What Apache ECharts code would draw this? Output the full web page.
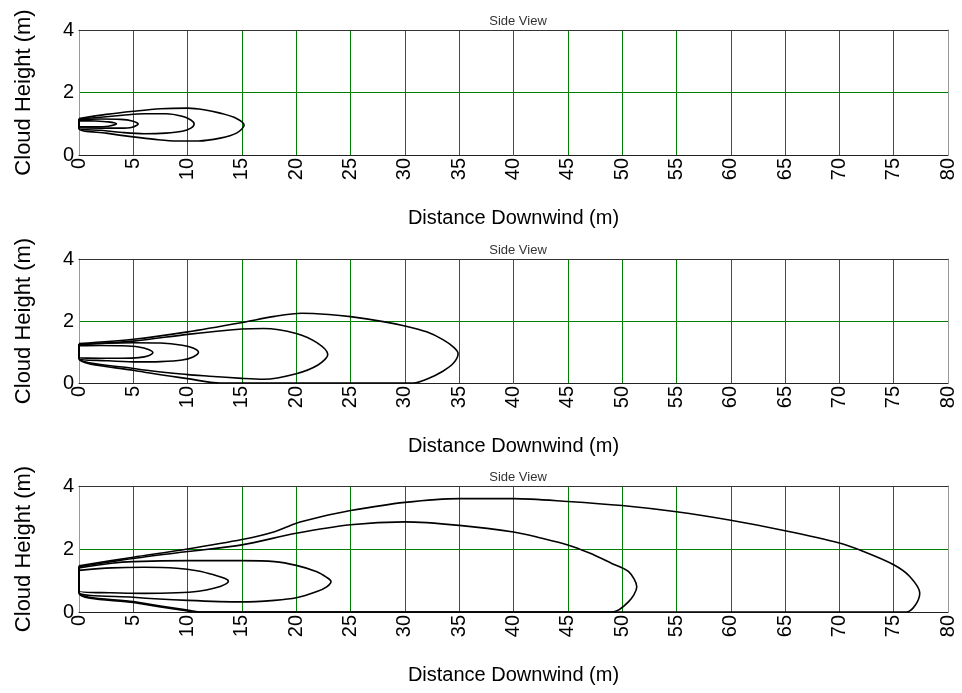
<!DOCTYPE html>
<html lang="en">

<head>
	<meta charset="UTF-8" />
	<title>Side View</title>
	<script src="https://cdn.jsdelivr.net/npm/echarts@6.0.0/dist/echarts.min.js"></script>
	<style type="text/css">
		body {
			margin: 0;
			background-color: #ffffff;
		}

		#chart {
			width: 962px;
			height: 693px;
		}
	</style>
</head>

<body>
	<div id="chart"></div>

	<script>
		//--------------------------- 資料 ---------------------------//

		const xTicks = [0, 5, 10, 15, 20, 25, 30, 35, 40, 45, 50, 55, 60, 65, 70, 75, 80];
		const yTicks = [0, 2, 4];

		// panel 1 contours (x m, height m)
		const p1Contour1 = [[0, 1.1], [1.5, 1.09], [2.7, 1.06], [3.45, 1.0], [2.7, 0.92], [1.5, 0.9], [0, 0.9], [0, 1.1]];
		const p1Contour2 = [[0, 1.13], [2, 1.15], [3.8, 1.14], [4.9, 1.09], [5.45, 0.99], [4.9, 0.89], [3.8, 0.86], [2, 0.86], [0, 0.87], [0, 1.13]];
		const p1Contour3 = [[0, 1.15], [2, 1.21], [4, 1.27], [6, 1.32], [8, 1.32], [9.5, 1.24], [10.3, 1.12], [10.6, 0.99], [10.3, 0.86], [9.5, 0.76], [8, 0.7], [6, 0.68], [4, 0.72], [2, 0.79], [0, 0.86], [0, 1.15]];
		const p1Contour4 = [[0, 1.17], [2.5, 1.3], [5, 1.4], [7.5, 1.48], [10, 1.5], [11.5, 1.45], [13, 1.34], [14.5, 1.17], [15.2, 0.95], [14.5, 0.7], [13, 0.54], [11, 0.45], [9, 0.45], [7, 0.5], [5, 0.58], [2.5, 0.7], [0, 0.84], [0, 1.17]];

		// panel 2 contours
		const p2Contour1 = [[0, 1.2], [2, 1.21], [4, 1.2], [5.5, 1.16], [6.4, 1.08], [6.8, 0.98], [6.4, 0.88], [5.5, 0.82], [4, 0.8], [2, 0.8], [0, 0.81], [0, 1.2]];
		const p2Contour2 = [[0, 1.23], [2.5, 1.28], [5, 1.3], [7.5, 1.29], [9.5, 1.22], [10.5, 1.13], [11, 0.99], [10.5, 0.84], [9.5, 0.74], [7.5, 0.69], [5, 0.68], [2.5, 0.72], [0, 0.79], [0, 1.23]];
		const p2Contour3 = [[0, 1.25], [5, 1.35], [10, 1.57], [15, 1.74], [17, 1.76], [20, 1.6], [21.9, 1.3], [22.9, 0.92], [22, 0.58], [20, 0.3], [17, 0.12], [15, 0.15], [12, 0.22], [10, 0.27], [5, 0.47], [0, 0.8], [0, 1.25]];
		const p2Contour4 = [[0, 1.27], [5, 1.41], [10, 1.65], [15, 1.95], [18, 2.15], [20.5, 2.25], [23, 2.21], [25, 2.14], [28, 1.98], [30, 1.84], [32, 1.65], [33.5, 1.4], [34.5, 1.15], [34.9, 0.95], [34.5, 0.65], [33.5, 0.38], [32, 0.12], [30.8, 0], [13, 0], [10, 0.14], [5, 0.41], [0, 0.78], [0, 1.27]];

		// panel 3 contours
		const p3Contour1 = [[0, 1.32], [3, 1.4], [6, 1.42], [9, 1.39], [11, 1.3], [12.5, 1.17], [13.4, 1.07], [13.75, 0.98], [13.4, 0.87], [12.5, 0.76], [11, 0.66], [9, 0.61], [6, 0.59], [3, 0.61], [0, 0.67], [0, 1.32]];
		const p3Contour2 = [[0, 1.4], [3, 1.55], [5, 1.6], [10, 1.63], [15, 1.63], [18, 1.6], [20, 1.48], [21.9, 1.28], [22.8, 1.1], [23.2, 0.97], [22.8, 0.8], [21.9, 0.65], [20, 0.45], [18, 0.37], [15, 0.32], [10, 0.37], [5, 0.47], [0, 0.63], [0, 1.4]];
		const p3Contour3 = [[0, 1.44], [5, 1.7], [10, 1.92], [15, 2.13], [20, 2.5], [25, 2.77], [30, 2.86], [35, 2.75], [40, 2.54], [42.5, 2.35], [45, 2.13], [47, 1.87], [49, 1.55], [50.6, 1.28], [51.35, 0.8], [50.6, 0.33], [49.1, 0], [11.3, 0], [10, 0.06], [5, 0.33], [0, 0.62], [0, 1.44]];
		const p3Contour4 = [[0, 1.47], [5, 1.74], [10, 2.0], [15, 2.3], [18, 2.55], [20, 2.82], [22, 3.0], [25, 3.22], [30, 3.48], [35, 3.6], [40, 3.6], [45, 3.51], [50, 3.38], [55, 3.18], [60, 2.91], [65, 2.58], [70, 2.19], [72, 1.95], [75, 1.5], [76.5, 1.12], [77.4, 0.6], [77, 0.22], [76.2, 0], [10.5, 0], [10, 0.03], [5, 0.3], [0, 0.6], [0, 1.47]];

		const panels = [
			[p1Contour1, p1Contour2, p1Contour3, p1Contour4],
			[p2Contour1, p2Contour2, p2Contour3, p2Contour4],
			[p3Contour1, p3Contour2, p3Contour3, p3Contour4]
		];

		//--------------------------- 版面 ---------------------------//

		const gridTops = [30, 259, 486];
		const gridHeights = [125, 124, 126];
		const font = 'Liberation Sans, Arial, sans-serif';
		const green = '#008000';

		var grids = [], titles = [], xAxes = [], yAxes = [], series = [];

		gridTops.forEach((top, i) => {
			grids.push({ left: 79, width: 869, top: top, height: gridHeights[i] });

			titles.push({
				text: 'Side View',
				left: 513,
				top: top - 20,
				textAlign: 'center',
				textStyle: { fontFamily: font, fontSize: 13, fontWeight: 'normal', color: '#333' }
			});
		});

		// bottom x / left y axes (with labels)
		gridTops.forEach((top, i) => {
			xAxes.push({
				type: 'value', gridIndex: i, min: 0, max: 80, interval: 5,
				name: 'Distance Downwind (m)', nameLocation: 'middle', nameGap: 53,
				nameTextStyle: { fontFamily: font, fontSize: 20, color: '#000' },
				axisLine: { onZero: false, lineStyle: { color: '#222', width: 1 } },
				axisTick: { show: false },
				axisLabel: {
					rotate: 90, margin: 3, fontFamily: font, fontSize: 20, color: '#000',
					formatter: (v) => xTicks.includes(v) ? String(v) : ''
				},
				splitLine: { showMinLine: false, showMaxLine: false, lineStyle: { color: green, width: 1 } }
			});

			yAxes.push({
				type: 'value', gridIndex: i, min: 0, max: 4, interval: 2,
				name: 'Cloud Height (m)', nameLocation: 'middle', nameGap: 44,
				nameTextStyle: { fontFamily: font, fontSize: 22, color: '#000' },
				axisLine: { show: true, onZero: false, lineStyle: { color: '#999', width: 1 } },
				axisTick: { show: false },
				axisLabel: {
					margin: 5, fontFamily: font, fontSize: 20, color: '#000',
					formatter: (v) => yTicks.includes(v) ? String(v) : ''
				},
				splitLine: { showMinLine: false, showMaxLine: false, lineStyle: { color: green, width: 1 } }
			});
		});

		// top x / right y axes (frame only)
		gridTops.forEach((top, i) => {
			xAxes.push({
				type: 'value', gridIndex: i, min: 0, max: 80, position: 'top',
				axisLine: { onZero: false, lineStyle: { color: '#333', width: 1 } },
				axisTick: { show: false }, axisLabel: { show: false }, splitLine: { show: false }
			});

			yAxes.push({
				type: 'value', gridIndex: i, min: 0, max: 4, position: 'right',
				axisLine: { show: true, onZero: false, lineStyle: { color: '#999', width: 1 } },
				axisTick: { show: false }, axisLabel: { show: false }, splitLine: { show: false }
			});
		});

		panels.forEach((contours, i) => {
			contours.forEach((c) => {
				series.push({
					type: 'line',
					xAxisIndex: i,
					yAxisIndex: i,
					data: c,
					smooth: 0.3,
					showSymbol: false,
					silent: true,
					lineStyle: { color: '#000', width: 1.6 }
				});
			});
		});

		//--------------------------- 繪圖 ---------------------------//

		var chart = echarts.init(document.getElementById('chart'));

		chart.setOption({
			animation: false,
			backgroundColor: '#ffffff',
			title: titles,
			grid: grids,
			xAxis: xAxes,
			yAxis: yAxes,
			series: series
		});
	</script>
</body>

</html>
